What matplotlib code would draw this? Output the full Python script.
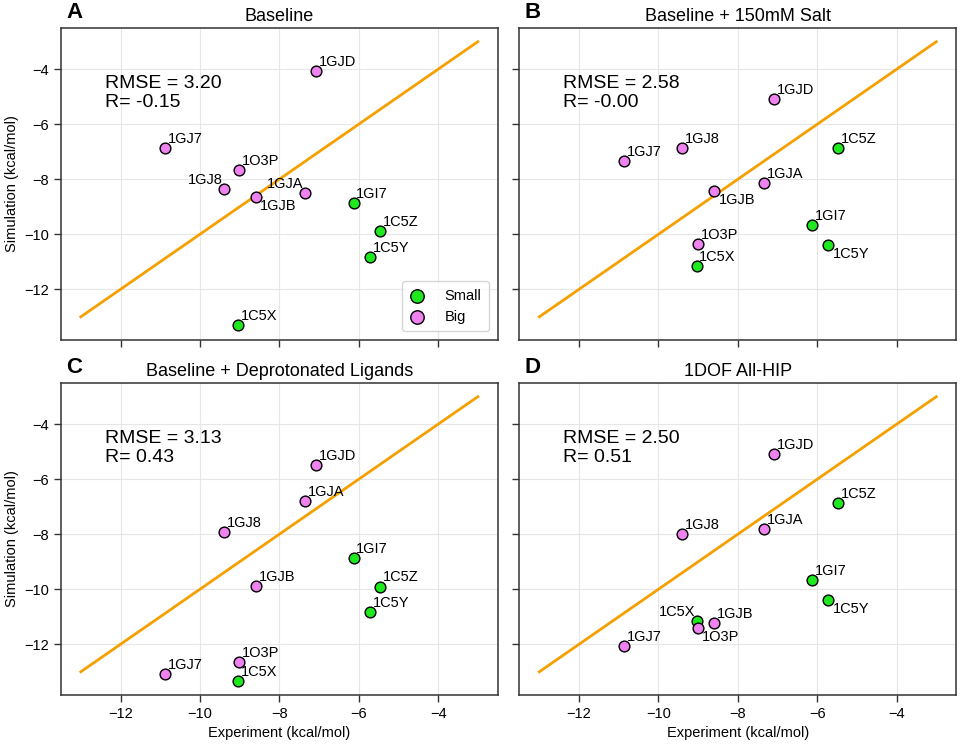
"""Simulated vs. experimental binding free energies for four setups."""

import matplotlib.pyplot as plt
import numpy as np

plt.rcParams["font.family"] = ["Liberation Sans", "DejaVu Sans"]

# complexes and their experimental binding free energies (kcal/mol)
names = ["1C5X", "1C5Y", "1C5Z", "1GI7", "1GJ7", "1GJ8", "1GJA", "1GJB", "1GJD", "1O3P"]
sizes = ["Small", "Small", "Small", "Small", "Big", "Big", "Big", "Big", "Big", "Big"]
experiment = [-9.04, -5.72, -5.47, -6.13, -10.87, -9.40, -7.35, -8.59, -7.08, -9.01]

# simulated values for each setup
sim_baseline = [-13.31, -10.83, -9.88, -8.86, -6.85, -8.34, -8.49, -8.63, -4.05, -7.65]
sim_salt = [-11.14, -10.38, -6.85, -9.67, -7.35, -6.87, -8.13, -8.44, -5.08, -10.35]
sim_deprot = [-13.32, -10.84, -9.90, -8.88, -13.09, -7.93, -6.79, -9.88, -5.48, -12.63]
sim_allhip = [-11.14, -10.38, -6.87, -9.67, -12.07, -7.99, -7.82, -11.22, -5.08, -11.39]

panel_titles = ["Baseline", "Baseline + 150mM Salt",
                "Baseline + Deprotonated Ligands", "1DOF All-HIP"]
panel_letters = ["A", "B", "C", "D"]
rmse_values = [3.20, 2.58, 3.13, 2.50]
r_values = ["-0.15", "-0.00", "0.43", "0.51"]
diagonal = [-13, -3]

colors = {"Small": "#1ee81e", "Big": "violet"}

# label placement (anything not listed goes upper right)
label_pos = [
    {"1GJ8": "ul", "1GJB": "lr", "1GJA": "ul"},
    {"1GJB": "lr", "1C5Y": "lr"},
    {},
    {"1C5X": "ul", "1O3P": "lr", "1C5Y": "lr"},
]
offsets = {
    "ur": ((2, 1.5), "left", "bottom"),
    "ul": ((-1, 1.5), "right", "bottom"),
    "lr": ((3, -1.5), "left", "top"),
}


def main() -> None:
    fig, axes = plt.subplots(2, 2, figsize=(9.6, 7.44), sharex=True, sharey=True)
    fig.subplots_adjust(left=0.0635, right=0.996, bottom=0.066, top=0.9624,
                        wspace=0.05, hspace=0.138)

    sims = [sim_baseline, sim_salt, sim_deprot, sim_allhip]
    exp = np.array(experiment)
    for i, ax in enumerate(axes.flat):
        sim = np.array(sims[i])
        ax.set_axisbelow(True)
        ax.grid(color="#e6e6e6", linewidth=0.8)
        ax.plot(diagonal, diagonal, color="#f5a000", linewidth=2, zorder=1)

        for group in ["Small", "Big"]:
            mask = np.array([s == group for s in sizes])
            ax.scatter(exp[mask], sim[mask], s=60, color=colors[group],
                       edgecolor="black", linewidth=1, label=group, zorder=3)

        for name, x, y in zip(names, exp, sim):
            off, ha, va = offsets[label_pos[i].get(name, "ur")]
            ax.annotate(name, (x, y), xytext=off, textcoords="offset points",
                        ha=ha, va=va, fontsize=10.5, zorder=4)

        ax.text(0.1, 0.735, f"RMSE = {rmse_values[i]:.2f}\nR= {r_values[i]}",
                transform=ax.transAxes, fontsize=14, va="bottom", ha="left",
                linespacing=1.12)
        ax.set_title(panel_titles[i], fontsize=13, pad=5)
        ax.text(0.012, 1.015, panel_letters[i], transform=ax.transAxes,
                fontsize=16, fontweight="bold", va="bottom", ha="left")

        for sp in ax.spines.values():
            sp.set_color("#333333")
            sp.set_linewidth(1.1)
        ax.tick_params(direction="out", length=5, width=1, labelsize=10.5,
                       color="#333333")

    ax0 = axes[0, 0]
    ax0.set_xlim(-13.5, -2.5)
    ax0.set_ylim(-13.84, -2.5)
    ax0.set_xticks([-12, -10, -8, -6, -4])
    ax0.set_yticks([-12, -10, -8, -6, -4])

    axes[0, 0].legend(loc="lower right", fontsize=10.5, markerscale=1.25,
                      borderpad=0.5, handlelength=1.0, handletextpad=1.4,
                      labelspacing=0.5, borderaxespad=0.6,
                      edgecolor="#cccccc", fancybox=True)

    for ax in axes[:, 0]:
        ax.set_ylabel("Simulation (kcal/mol)", fontsize=10.5)
    for ax in axes[1, :]:
        ax.set_xlabel("Experiment (kcal/mol)", fontsize=10.5)

    fig.savefig("out.png", dpi=100)


if __name__ == "__main__":
    main()
